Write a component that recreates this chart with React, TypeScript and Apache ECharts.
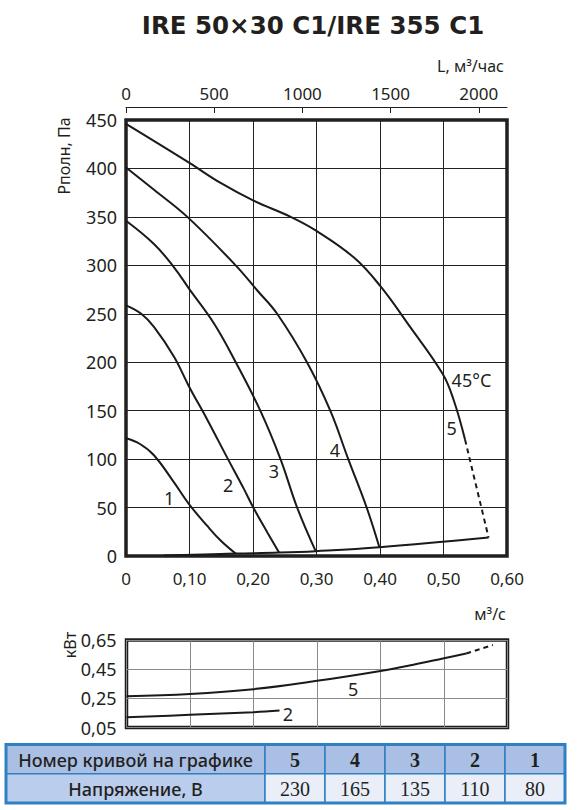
import { useEffect, useRef } from 'react';
import * as echarts from 'echarts';

// ---------- data ----------
const titleText = 'IRE 50×30 C1/IRE 355 C1';
const flowUnitTop = 'L, м³/час';
const flowUnitBottom = 'м³/с';
const pressureName = 'Рполн, Па';
const powerName = 'кВт';

const hourTicks = [0, 500, 1000, 1500, 2000];
const flowMax = 0.6;
const flowStep = 0.1;
const pressureMax = 450;
const pressureStep = 50;
const powerMin = 0.05;
const powerMax = 0.65;
const powerStep = 0.2;

// pressure curves [m³/s, Pa]
const curve1 = [[0, 121.5], [0.022, 115.6], [0.044, 104], [0.0756, 76], [0.0992, 53.5], [0.128, 31], [0.149, 16], [0.1727, 2.5]];
const curve2 = [[0, 258.7], [0.024, 250], [0.044, 236.4], [0.0756, 205.7], [0.0992, 175], [0.128, 140.7], [0.1606, 100], [0.186, 68.8], [0.2005, 50], [0.2226, 24.3], [0.241, 3.5]];
const curve3 = [[0, 346], [0.044, 322], [0.0756, 298], [0.0992, 276], [0.1386, 240], [0.1728, 200], [0.2115, 150], [0.2433, 100], [0.2695, 50], [0.2987, 5]];
const curve4 = [[0, 401], [0.0441, 378], [0.0966, 350], [0.1727, 300], [0.2068, 274], [0.238, 250], [0.285, 200], [0.3217, 150], [0.35, 100], [0.379, 50], [0.399, 9]];
const curve5 = [[0, 446], [0.0992, 406], [0.149, 385], [0.2, 367], [0.2593, 350], [0.2987, 336], [0.359, 308], [0.4, 279], [0.4457, 238], [0.4986, 188], [0.516, 161], [0.534, 120]];
const curve5Dashed = [[0.534, 120], [0.571, 19]];
const systemLine = [[0.06, 0.5], [0.1727, 2.5], [0.241, 3.5], [0.2987, 5], [0.399, 9], [0.571, 19]];

// power curves [m³/s, kW]
const power5 = [[0, 0.265], [0.1, 0.28], [0.2, 0.313], [0.3, 0.37], [0.4, 0.438], [0.45, 0.479], [0.5, 0.525], [0.535, 0.557]];
const power5Dashed = [[0.535, 0.557], [0.577, 0.616]];
const power2 = [[0, 0.12], [0.1, 0.137], [0.2, 0.155], [0.241, 0.166]];

// annotations [m³/s, value, text]
const pressureLabels: [number, number, string][] = [[0.068, 60, '1'], [0.161, 73, '2'], [0.233, 88, '3'], [0.329, 109, '4'], [0.513, 132, '5'], [0.544, 182, '45°C']];
const powerLabels: [number, number, string][] = [[0.254, 0.144, '2'], [0.357, 0.313, '5']];

// table
const tableRow1Label = 'Номер кривой на графике';
const tableRow2Label = 'Напряжение, В';
const curveNumbers = ['5', '4', '3', '2', '1'];
const voltages = ['230', '165', '135', '110', '80'];

// ---------- styles ----------
const INK = '#231f20';
const SANS = '"Noto Sans", sans-serif';
const LINE = '#1a1a1a';

const fmtComma = (v: number) => (v === 0 ? '0' : v.toFixed(2).replace('.', ','));

function buildTable() {
  const left = 6;
  const top = 744.5;
  const labelW = 259;
  const colW = 60;
  const rowH = 29.2;
  const blue = '#2e80c3';
  const els: any[] = [];
  const rows = [
    { label: tableRow1Label, values: curveNumbers, labelFill: '#a9bfe4', valueFill: '#a9bfe4', valueFont: `bold 20px "Liberation Serif", serif` },
    { label: tableRow2Label, values: voltages, labelFill: '#bacdec', valueFill: '#e9eef9', valueFont: `20px "Liberation Serif", serif` },
  ];
  rows.forEach((r, ri) => {
    const y = top + ri * rowH;
    els.push({ type: 'rect', shape: { x: left, y, width: labelW, height: rowH }, style: { fill: r.labelFill, stroke: blue, lineWidth: 1.5 } });
    els.push({ type: 'text', style: { text: r.label, x: left + labelW / 2, y: y + rowH / 2 + 1, align: 'center', verticalAlign: 'middle', font: `500 18px ${SANS}`, fill: INK } });
    r.values.forEach((v, ci) => {
      const x = left + labelW + ci * colW;
      els.push({ type: 'rect', shape: { x, y, width: colW, height: rowH }, style: { fill: r.valueFill, stroke: blue, lineWidth: 1.5 } });
      els.push({ type: 'text', style: { text: v, x: x + colW / 2, y: y + rowH / 2 + 1, align: 'center', verticalAlign: 'middle', font: r.valueFont, fill: INK } });
    });
  });
  els.push({ type: 'rect', shape: { x: left, y: top, width: labelW + colW * 5, height: rowH * 2 }, style: { fill: 'none', stroke: blue, lineWidth: 3 }, z: 10 });
  return els;
}

const lineSeries = (data: number[][], xi: number, yi: number, dashed = false) => ({
  type: 'line',
  xAxisIndex: xi,
  yAxisIndex: yi,
  data,
  smooth: 0.4,
  symbol: 'none',
  lineStyle: { color: LINE, width: 2, type: dashed ? [5, 4] : 'solid' },
  z: 5,
});

export default function App() {
  const ref = useRef<HTMLDivElement>(null);
  useEffect(() => {
    if (!ref.current) return;
    const chart = echarts.init(ref.current, undefined, { renderer: 'svg' });
    const axisText = { color: INK, fontFamily: SANS, fontSize: 17 };
    const staticGraphic = [
      { type: 'text', style: { text: titleText, x: 313, y: 25, align: 'center', verticalAlign: 'middle', font: 'bold 24.5px "DejaVu Sans", sans-serif', fill: INK } },
      { type: 'text', style: { text: flowUnitTop, x: 504, y: 66, align: 'right', verticalAlign: 'middle', font: `16px ${SANS}`, fill: INK } },
      { type: 'text', rotation: Math.PI / 2, x: 64, y: 156, style: { text: pressureName, x: 0, y: 0, align: 'center', verticalAlign: 'middle', font: `16px ${SANS}`, fill: INK } },
      { type: 'text', style: { text: flowUnitBottom, x: 506, y: 614, align: 'right', verticalAlign: 'middle', font: `16px ${SANS}`, fill: INK } },
      { type: 'text', rotation: Math.PI / 2, x: 70, y: 645, style: { text: powerName, x: 0, y: 0, align: 'center', verticalAlign: 'middle', font: `16px ${SANS}`, fill: INK } },
      ...buildTable(),
    ];
    chart.setOption({
      animation: false,
      backgroundColor: '#ffffff',
      grid: [
        { left: 126, top: 120, width: 381, height: 436, show: true, borderColor: '#1e1e1e', borderWidth: 3.5, backgroundColor: 'transparent' },
        { left: 126.5, top: 640, width: 381, height: 87.5, show: true, borderColor: '#1e1e1e', borderWidth: 3.5, backgroundColor: 'transparent' },
      ],
      xAxis: [
        {
          gridIndex: 0, type: 'value', position: 'bottom', min: 0, max: flowMax, interval: flowStep,
          axisLine: { show: false }, axisTick: { show: false },
          axisLabel: { ...axisText, margin: 14, formatter: fmtComma },
          splitLine: { show: true, lineStyle: { color: '#222', width: 1 } },
        },
        {
          gridIndex: 0, type: 'value', position: 'top', offset: 13, min: 0, max: flowMax * 3600,
          axisLine: { show: true, lineStyle: { color: '#222', width: 1 } },
          axisTick: { show: true, inside: true, length: 6, customValues: hourTicks, lineStyle: { color: '#222', width: 1 } },
          axisLabel: { ...axisText, margin: 5, customValues: hourTicks, formatter: (v: number) => String(v) },
          splitLine: { show: false },
        },
        {
          gridIndex: 1, type: 'value', min: 0, max: flowMax, interval: flowStep,
          axisLine: { show: false }, axisTick: { show: false }, axisLabel: { show: false },
          splitLine: { show: true, lineStyle: { color: '#8a8a8a', width: 1 } },
        },
      ],
      yAxis: [
        {
          gridIndex: 0, type: 'value', min: 0, max: pressureMax, interval: pressureStep,
          axisLine: { show: false }, axisTick: { show: false },
          axisLabel: { ...axisText, fontSize: 18, margin: 9 },
          splitLine: { show: true, lineStyle: { color: '#222', width: 1 } },
        },
        {
          gridIndex: 1, type: 'value', min: powerMin, max: powerMax, interval: powerStep,
          axisLine: { show: false }, axisTick: { show: false },
          axisLabel: { ...axisText, fontSize: 18, margin: 10, formatter: fmtComma },
          splitLine: { show: true, lineStyle: { color: '#8a8a8a', width: 1 } },
        },
      ],
      series: [
        lineSeries(curve1, 0, 0),
        lineSeries(curve2, 0, 0),
        lineSeries(curve3, 0, 0),
        lineSeries(curve4, 0, 0),
        lineSeries(curve5, 0, 0),
        lineSeries(curve5Dashed, 0, 0, true),
        lineSeries(systemLine, 0, 0),
        lineSeries(power5, 2, 1),
        lineSeries(power5Dashed, 2, 1, true),
        lineSeries(power2, 2, 1),
      ],
      graphic: staticGraphic,
    });
    const toText = (arr: [number, number, string][], xi: number, yi: number) =>
      arr.map(([q, v, t]) => {
        const [px, py] = chart.convertToPixel({ xAxisIndex: xi, yAxisIndex: yi }, [q, v]) as number[];
        return { type: 'text', z: 20, style: { text: t, x: px, y: py, align: 'center', verticalAlign: 'middle', font: `18px ${SANS}`, fill: INK } };
      });
    chart.setOption({
      graphic: [...staticGraphic, ...toText(pressureLabels, 0, 0), ...toText(powerLabels, 2, 1)],
    });
    return () => chart.dispose();
  }, []);
  return <div ref={ref} style={{ position: 'absolute', left: 0, top: 0, width: 578, height: 810 }} />;
}
